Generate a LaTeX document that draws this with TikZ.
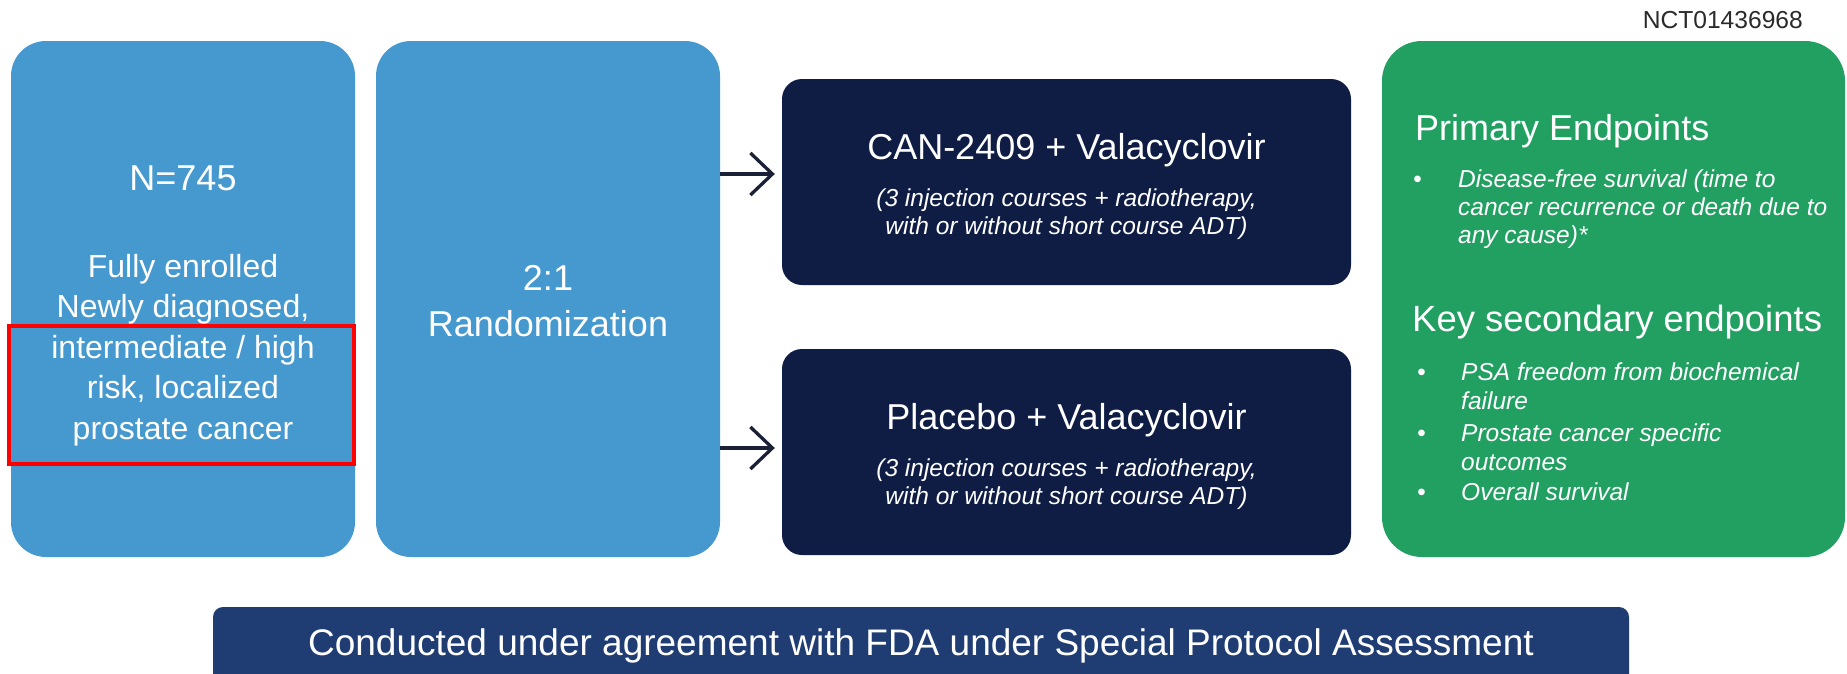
\documentclass[tikz,border=0pt]{standalone}
\usepackage{fontspec}
\setmainfont{Liberation Sans}
\usetikzlibrary{arrows.meta}
\definecolor{lblue}{HTML}{4599CF}
\definecolor{dnavy}{HTML}{0F1D45}
\definecolor{egreen}{HTML}{21A062}
\definecolor{bnavy}{HTML}{1F3C73}
\definecolor{arrowc}{HTML}{1A2035}
\definecolor{nctgray}{HTML}{2A2A2A}
\begin{document}
\begin{tikzpicture}[x=1pt,y=-1pt,
  box/.style={inner sep=0pt, draw=none},
  lbl/.style={text=white, inner sep=0pt, anchor=base},
  lbll/.style={text=white, inner sep=0pt, anchor=base west},
  ttl/.style={font=\fontsize{36}{42}\selectfont},
  body/.style={font=\fontsize{32}{38}\selectfont},
  ital/.style={font=\fontsize{24.5}{28}\selectfont\itshape},
  arr/.style={draw=arrowc, line width=3.3pt,
    -{Straight Barb[length=22pt,width=42pt,line width=3.3pt]}, shorten >=7pt}]
\useasboundingbox (0,0) rectangle (1847,673);
\clip (0,0) rectangle (1847,673);
\fill[white] (0,0) rectangle (1847,673);

% boxes
\node[box, fill=lblue, rounded corners=35pt, minimum width=344pt, minimum height=516pt] (enrol) at (183,299) {};
\node[box, fill=lblue, rounded corners=35pt, minimum width=344pt, minimum height=516pt] (rand) at (548,299) {};
\node[box, fill=dnavy, rounded corners=20pt, minimum width=569pt, minimum height=206pt] (armA) at (1066.5,182) {};
\node[box, fill=dnavy, rounded corners=20pt, minimum width=569pt, minimum height=206pt] (armB) at (1066.5,452) {};
\node[box, fill=egreen, rounded corners=40pt, minimum width=463pt, minimum height=516pt] (endp) at (1613.5,299) {};
\node[box, fill=bnavy, rounded corners=10pt, minimum width=1416pt, minimum height=90pt] (spa) at (921,652) {};

% box 1 text
\node[lbl, ttl] (n745) at (183,190) {N=745};
\node[lbl, body] (l1) at (183,277) {Fully enrolled};
\node[lbl, body] (l2) at (183,317) {Newly diagnosed,};
\node[lbl, body] (l3) at (183,358) {intermediate / high};
\node[lbl, body] (l4) at (183,398.5) {risk, localized};
\node[lbl, body] (l5) at (183,439) {prostate cancer};

% highlight
\node[draw=red, line width=4.5pt, inner sep=0pt, minimum width=345pt, minimum height=138pt] (hl) at (181.5,395) {};

% box 2 text
\node[lbl, ttl] (ratio) at (548,290) {2:1};
\node[lbl, ttl] (randt) at (548,336) {Randomization};

% arm A
\node[lbl, ttl] (armAt) at (1066.5,159) {CAN-2409 + Valacyclovir};
\node[lbl, ital] (armA1) at (1066.5,206) {(3 injection courses + radiotherapy,};
\node[lbl, ital] (armA2) at (1066.5,234) {with or without short course ADT)};
% arm B
\node[lbl, ttl] (armBt) at (1066.5,429) {Placebo + Valacyclovir};
\node[lbl, ital] (armB1) at (1066.5,476) {(3 injection courses + radiotherapy,};
\node[lbl, ital] (armB2) at (1066.5,504) {with or without short course ADT)};

% arrows
\coordinate (ya) at (0,174);
\coordinate (yb) at (0,448);
\draw[arr] (rand.east |- ya) -- (armA.west |- ya);
\draw[arr] (rand.east |- yb) -- (armB.west |- yb);

% NCT
\node[inner sep=0pt, anchor=base east, text=nctgray, font=\fontsize{24.6}{28}\selectfont] (nct) at (1803,28) {NCT01436968};

% endpoints
\node[lbll, ttl] (pe) at (1415,140) {Primary Endpoints};
\node[lbll, ital] (pb1) at (1413,187) {•};
\node[lbll, ital] (p1a) at (1458,187) {Disease-free survival (time to};
\node[lbll, ital] (p1b) at (1458,215) {cancer recurrence or death due to};
\node[lbll, ital] (p1c) at (1458,243) {any cause)*};
\node[lbll, font=\fontsize{36.5}{42}\selectfont] (kse) at (1412,331) {Key secondary endpoints};
\node[lbll, ital] (sb1) at (1417,380) {•};
\node[lbll, ital] (s1a) at (1461,380) {PSA freedom from biochemical};
\node[lbll, ital] (s1b) at (1461,409) {failure};
\node[lbll, ital] (sb2) at (1417,441) {•};
\node[lbll, ital] (s2a) at (1461,441) {Prostate cancer specific};
\node[lbll, ital] (s2b) at (1461,470) {outcomes};
\node[lbll, ital] (sb3) at (1417,500) {•};
\node[lbll, ital] (s3a) at (1461,500) {Overall survival};

% banner
\node[lbl, font=\fontsize{37}{42}\selectfont] (spat) at (921,655) {Conducted under agreement with FDA under Special Protocol Assessment};
\end{tikzpicture}
\end{document}
